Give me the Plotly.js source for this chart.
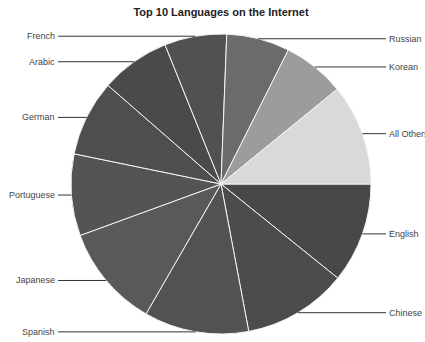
<!DOCTYPE html>
<html>
<head>
<meta charset="utf-8">
<script src="https://cdn.plot.ly/plotly-3.0.1.min.js"></script>
<style>html,body{margin:0;padding:0;background:#fff;}#chart{width:425px;height:342px;}</style>
</head>
<body>
<div id="chart"></div>
<script>
// Data
const languages = ["English","Chinese","Spanish","Japanese","Portuguese","German","Arabic","French","Russian","Korean","All Others"];
const shares    = [10.8, 11.25, 11.3, 11.1, 8.8, 8.2, 7.5, 6.7, 6.8, 6.7, 10.9];
const sliceColors = ["#484848","#4c4c4c","#525252","#595959","#545454","#4e4e4e","#4a4a4a","#515151","#6b6b6b","#9c9c9c","#d9d9d9"];
const chartTitle = "Top 10 Languages on the Internet";

const W = 425, H = 342;
const M = {l: 71, r: 54, t: 34, b: 8};
const plotW = W - M.l - M.r, plotH = H - M.t - M.b;
const R = Math.min(plotW, plotH) / 2;
const cx = M.l + plotW / 2, cy = M.t + plotH / 2;

const total = shares.reduce((a, b) => a + b, 0);
const toPX = x => (x - M.l) / plotW;
const toPY = y => 1 - (y - M.t) / plotH;

const shapes = [], annotations = [];
let cum = 0;
shares.forEach((v, i) => {
  const mid = (cum + v / 2) / total * 2 * Math.PI; // clockwise from 3 o'clock
  cum += v;
  const ex = cx + R * Math.cos(mid);
  const ey = cy + R * Math.sin(mid);
  const right = Math.cos(mid) >= 0;
  const lx = right ? 386 : 58;
  shapes.push({type: "line", xref: "paper", yref: "paper",
    x0: toPX(lx), y0: toPY(ey), x1: toPX(ex), y1: toPY(ey),
    line: {color: "#333", width: 1}});
  annotations.push({xref: "paper", yref: "paper",
    x: toPX(right ? 387 : 57), y: toPY(ey),
    xanchor: right ? "left" : "right", yanchor: "middle",
    text: languages[i], showarrow: false,
    font: {family: "Liberation Sans, Arial, sans-serif", size: 9, color: "#444"}});
});

const trace = {
  type: "pie",
  labels: languages,
  values: shares,
  sort: false,
  direction: "clockwise",
  rotation: 90,
  textinfo: "none",
  hoverinfo: "none",
  showlegend: false,
  marker: {colors: sliceColors, line: {color: "#f4f4f4", width: 1}}
};

const layout = {
  width: W, height: H,
  margin: M,
  paper_bgcolor: "#fff",
  title: {text: "<b>" + chartTitle + "</b>", x: 221 / W, xanchor: "center", y: 1 - 12 / H, yanchor: "middle",
          font: {family: "Liberation Sans, Arial, sans-serif", size: 11, color: "#222"}},
  shapes: shapes,
  annotations: annotations
};

Plotly.newPlot("chart", [trace], layout, {displayModeBar: false, staticPlot: true});
</script>
</body>
</html>
